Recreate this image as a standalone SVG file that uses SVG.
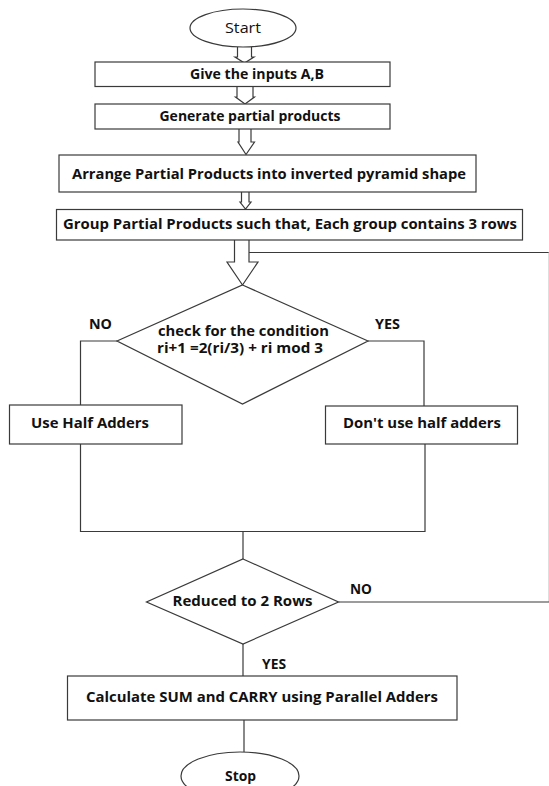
<svg xmlns="http://www.w3.org/2000/svg" width="549" height="786" viewBox="0 0 549 786">
<style>
.s{fill:#fff;stroke:#3a3a3a;stroke-width:1.2}
.c{fill:none;stroke:#3a3a3a;stroke-width:1.2}
.t{font-family:"Open Sans","Liberation Sans",sans-serif;font-weight:700;font-size:13.5px;fill:#111;text-anchor:middle}
.l{font-family:"Open Sans","Liberation Sans",sans-serif;font-weight:700;font-size:13.5px;fill:#111}
</style>
<rect width="549" height="786" fill="#fff"/>
<g id="connectors">
<path class="c" d="M237.5,47 V57 H235 L244.5,63 L254,57 H251.5 V47"/>
<path class="c" d="M237,86.5 V97 H235.5 L245,104 L254.5,97 H253 V86.5"/>
<path class="c" d="M239,129 V142 H238 L246,154.5 L254.5,142 H251 V129"/>
<path class="c" d="M241.5,192 V202 H240 L245.5,209 L251,202 H249 V192"/>
<path class="c" d="M234.5,240 V262 H227 L242.5,285 L258,262 H249 V240"/>
<path class="c" d="M249,252.5 H549"/>
<path d="M548.6,252.5 V602" fill="none" stroke="#d0d0d0" stroke-width="0.8"/>
<path class="c" d="M549,602 H338.5"/>
<path class="c" d="M117,341 H80.5 V405"/>
<path class="c" d="M368,341 H424 V406"/>
<path class="c" d="M80.5,444 V531.5 H425 V444"/>
<path class="c" d="M243,531.5 V559"/>
<path class="c" d="M243,644 V676"/>
<path class="c" d="M244,720 V752"/>
<text class="l" x="89" y="329" textLength="23" lengthAdjust="spacingAndGlyphs">NO</text>
<text class="l" x="375" y="329" textLength="25" lengthAdjust="spacingAndGlyphs">YES</text>
<text class="l" x="350" y="594" textLength="22" lengthAdjust="spacingAndGlyphs">NO</text>
<text class="l" x="262" y="669" textLength="24" lengthAdjust="spacingAndGlyphs">YES</text>
</g>
<g id="start">
<ellipse class="s" cx="243" cy="28" rx="53" ry="19"/>
<text x="243" y="33" font-family="'Open Sans','Liberation Sans',sans-serif" font-size="15" fill="#111" text-anchor="middle" textLength="36" lengthAdjust="spacingAndGlyphs">Start</text>
</g>
<g id="inputs">
<rect class="s" x="95" y="62" width="295" height="24.5"/>
<text class="t" x="257" y="79" textLength="134" lengthAdjust="spacingAndGlyphs">Give the inputs A,B</text>
</g>
<g id="generate">
<rect class="s" x="95" y="104" width="295" height="25"/>
<text class="t" x="250" y="120.5" textLength="181" lengthAdjust="spacingAndGlyphs">Generate partial products</text>
</g>
<g id="arrange">
<rect class="s" x="59" y="155" width="417" height="37"/>
<text class="t" x="269" y="178.5" textLength="394" lengthAdjust="spacingAndGlyphs">Arrange Partial Products into inverted pyramid shape</text>
</g>
<g id="group">
<rect class="s" x="56.5" y="209.5" width="466" height="30.5"/>
<text class="t" x="290" y="229" textLength="454" lengthAdjust="spacingAndGlyphs">Group Partial Products such that, Each group contains 3 rows</text>
</g>
<g id="check">
<polygon class="s" points="242.5,285 368,341 242.5,404 117,341"/>
<text class="t" x="243.5" y="336" textLength="171" lengthAdjust="spacingAndGlyphs">check for the condition</text>
<text class="t" x="240" y="353" textLength="166" lengthAdjust="spacingAndGlyphs">ri+1 =2(ri/3) + ri mod 3</text>
</g>
<g id="halfadders">
<rect class="s" x="9.5" y="405" width="172.5" height="39"/>
<text class="t" x="90" y="428" textLength="118" lengthAdjust="spacingAndGlyphs">Use Half Adders</text>
</g>
<g id="nohalfadders">
<rect class="s" x="325.5" y="406" width="192" height="38"/>
<text class="t" x="422" y="428" textLength="158" lengthAdjust="spacingAndGlyphs">Don't use half adders</text>
</g>
<g id="reduced">
<polygon class="s" points="243,559 338.5,602 243,644 146.5,602"/>
<text class="t" x="242.5" y="605.5" textLength="140" lengthAdjust="spacingAndGlyphs">Reduced to 2 Rows</text>
</g>
<g id="calculate">
<rect class="s" x="67.5" y="676" width="389.5" height="44"/>
<text class="t" x="262" y="701.5" textLength="352" lengthAdjust="spacingAndGlyphs">Calculate SUM and CARRY using Parallel Adders</text>
</g>
<g id="stop">
<ellipse class="s" cx="240" cy="776" rx="59" ry="24"/>
<text class="t" x="240.5" y="780.5" textLength="31" lengthAdjust="spacingAndGlyphs">Stop</text>
</g>
</svg>
